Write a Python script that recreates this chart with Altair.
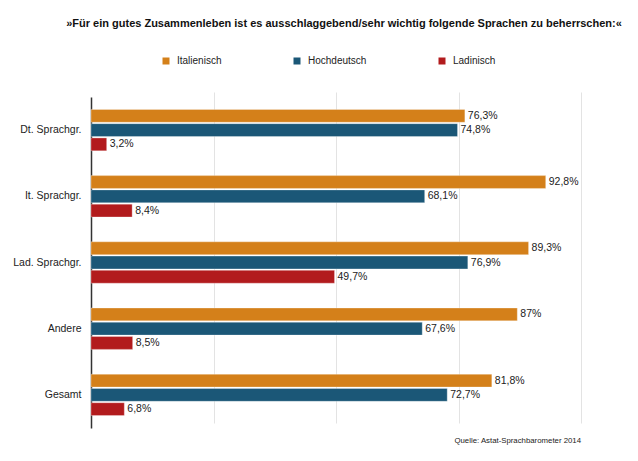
import altair as alt
import pandas as pd

categories = ["Dt. Sprachgr.", "It. Sprachgr.", "Lad. Sprachgr.", "Andere", "Gesamt"]
languages = ["Italienisch", "Hochdeutsch", "Ladinisch"]
italienisch = [76.3, 92.8, 89.3, 87.0, 81.8]
hochdeutsch = [74.8, 68.1, 76.9, 67.6, 72.7]
ladinisch = [3.2, 8.4, 49.7, 8.5, 6.8]
colors = ["#D4801A", "#1B5777", "#B21B1D"]
title_text = "»Für ein gutes Zusammenleben ist es ausschlaggebend/sehr wichtig folgende Sprachen zu beherrschen:«"
source_text = "Quelle: Astat-Sprachbarometer 2014"

rows = []
for lang, vals in zip(languages, [italienisch, hochdeutsch, ladinisch]):
    for c, v in zip(categories, vals):
        rows.append({"Gruppe": c, "Sprache": lang, "Wert": v,
                     "Label": f"{v:g}".replace(".", ",") + "%"})
df = pd.DataFrame(rows)

W, H = 490, 340
FONT = "Liberation Sans"

y = alt.Y("Gruppe:N", sort=categories,
          scale=alt.Scale(paddingInner=0, paddingOuter=0, range=[7, 338]),
          axis=alt.Axis(title=None, ticks=False, labelPadding=10, labelFontSize=10.5,
                        labelColor="#222", domainColor="#333", domainWidth=1.5,
                        grid=False, labelFont=FONT))
yoff = alt.YOffset("Sprache:N", sort=languages,
                   scale=alt.Scale(paddingInner=0.1, paddingOuter=0.87))
x = alt.X("Wert:Q", scale=alt.Scale(domain=[0, 100]),
          axis=alt.Axis(title=None, labels=False, ticks=False, domain=False, grid=True,
                        gridColor="#e3e3e3", values=[25, 50, 75, 100]))

base = alt.Chart(df)
bars = base.mark_bar(stroke="white", strokeOpacity=0.3, strokeWidth=1).encode(
    x=x, y=y, yOffset=yoff,
    color=alt.Color("Sprache:N", sort=languages,
                    scale=alt.Scale(domain=languages, range=colors),
                    legend=alt.Legend(title=None, orient="none", legendX=70, legendY=-34,
                                      direction="horizontal", symbolType="square",
                                      symbolSize=49, labelFontSize=10, labelFont=FONT,
                                      labelColor="#222", columnPadding=70, labelOffset=6,
                                      symbolStrokeWidth=0, symbolOpacity=1)),
)
texts = base.mark_text(align="left", baseline="middle", dx=3, fontSize=10.5,
                       font=FONT, color="#222").encode(
    x="Wert:Q", y=alt.Y("Gruppe:N", sort=categories),
    yOffset=alt.YOffset("Sprache:N", sort=languages),
    text="Label:N")

src = alt.Chart(pd.DataFrame({"t": [source_text]})).mark_text(
    align="right", baseline="middle", fontSize=7.8, font=FONT, color="#222").encode(
    x=alt.value(W), y=alt.value(H + 11), text="t:N")

chart = alt.layer(bars, texts, src).properties(
    width=W, height=H,
    title=alt.TitleParams(text=title_text, fontSize=11, font=FONT, fontWeight="bold",
                          anchor="middle", offset=27, dx=8, color="#111"),
    autosize=alt.AutoSizeParams(type="none"),
    padding={"left": 83, "top": 82, "right": 49, "bottom": 23},
).configure_view(stroke=None)

chart.save("out.html", embed_options={"renderer": "svg", "actions": False})
